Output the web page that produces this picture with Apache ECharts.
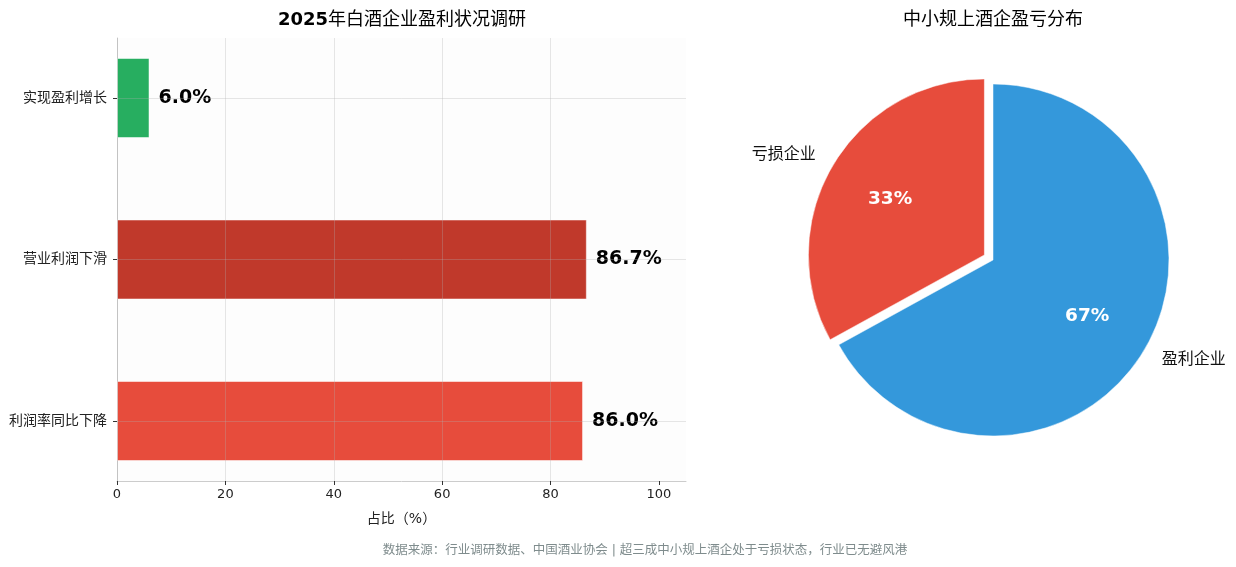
<!DOCTYPE html>
<html>
<head>
<meta charset="utf-8">
<script src="https://cdn.jsdelivr.net/npm/echarts@6/dist/echarts.min.js"></script>
<style>
  html, body { margin: 0; padding: 0; background: #fff; }
  #box { width: 1236px; height: 567px; }
</style>
</head>
<body>
<div id="box"></div>
<script>
// 柱状图数据（自下而上）
var barCategories = ['利润率同比下降', '营业利润下滑', '实现盈利增长'];
var barValues = [86.0, 86.7, 6.0];
var barColors = ['#E74C3C', '#C0392B', '#27AE60'];
var xTicks = [0, 20, 40, 60, 80, 100];

// 饼图数据
var pieNames = ['亏损企业', '盈利企业'];
var pieValues = [33, 67];
var pieColors = ['#E74C3C', '#3498DB'];

var font = '"DejaVu Sans", "Noto Sans CJK SC", sans-serif';
var gridLineColor = 'rgba(176,176,176,0.3)';

var myChart = echarts.init(document.getElementById('box'));

var barData = barValues.map(function (v, i) {
    return { value: v, itemStyle: { color: barColors[i] } };
});

var pieData = pieValues.map(function (v, i) {
    return { name: pieNames[i], value: v, selected: i === 0, itemStyle: { color: pieColors[i] } };
});

// 只放百分比文字用，扇区透明
var pieLabelData = pieValues.map(function (v, i) {
    return { name: pieNames[i], value: v, selected: i === 0 };
});

var option = {
    backgroundColor: '#ffffff',
    textStyle: { fontFamily: font },
    animation: false,
    title: [{
        text: '{a|2025}{b|年白酒企业盈利状况调研}',
        left: 397, top: 6, textAlign: 'center',
        textStyle: {
            rich: {
                a: { fontSize: 18, fontWeight: 'bold', color: '#000', fontFamily: font },
                b: { fontSize: 18, fontWeight: 'normal', color: '#000', fontFamily: font }
            }
        }
    }, {
        text: '中小规上酒企盈亏分布',
        left: 988, top: 6, textAlign: 'center',
        textStyle: { fontSize: 18, fontWeight: 'normal', color: '#000', fontFamily: font }
    }, {
        text: '数据来源：行业调研数据、中国酒业协会 | 超三成中小规上酒企处于亏损状态，行业已无避风港',
        left: 640, top: 539, textAlign: 'center',
        textStyle: { fontSize: 12.5, fontWeight: 'normal', color: '#7f8c8d', fontFamily: font }
    }],
    grid: [
        // 放柱子的网格（类目带宽与原图一致）
        { left: 117, top: 17.25, width: 569, height: 484.5 },
        // 坐标框、刻度、网格线
        { left: 117, top: 38, width: 569, height: 443, show: true, backgroundColor: '#FDFDFD', borderWidth: 0 }
    ],
    xAxis: [{
        gridIndex: 0, type: 'value', min: 0, max: 105, show: false
    }, {
        gridIndex: 1, type: 'value', min: 0, max: 105, interval: 20, z: 3,
        name: '占比（%）', nameLocation: 'middle', nameGap: 31,
        nameTextStyle: { fontSize: 14, color: '#222' },
        axisLine: { show: true, lineStyle: { color: '#cccccc', width: 1 } },
        axisTick: { show: true, length: 4, customValues: xTicks, lineStyle: { color: '#333' } },
        axisLabel: {
            fontSize: 13, color: '#222', margin: 7, customValues: xTicks
        },
        splitLine: { show: true, showMaxLine: false, lineStyle: { color: gridLineColor, width: 1 } }
    }],
    yAxis: [{
        gridIndex: 0, type: 'category', data: barCategories,
        axisLine: { show: false },
        axisTick: { show: true, alignWithLabel: true, length: 4, lineStyle: { color: '#333' } },
        axisLabel: { fontSize: 14, color: '#222', margin: 10 },
        splitLine: { show: false }
    }, {
        gridIndex: 1, type: 'value', min: 0, max: 1,
        axisLine: { show: true, lineStyle: { color: '#cccccc', width: 1 } },
        axisTick: { show: false },
        axisLabel: { show: false },
        splitLine: { show: false }
    }],
    series: [{
        type: 'bar',
        xAxisIndex: 0, yAxisIndex: 0,
        data: barData,
        barWidth: 80,
        itemStyle: { opacity: 1, borderColor: 'rgba(255,255,255,0.5)', borderWidth: 1 },
        label: {
            show: true, position: 'right', distance: 9,
            fontSize: 19, fontWeight: 'bold', color: '#000', fontFamily: font,
            formatter: function (p) { return p.value.toFixed(1) + '%'; }
        },
        markLine: {
            silent: true, symbol: 'none',
            label: { show: false },
            lineStyle: { color: gridLineColor, width: 1, type: 'solid' },
            data: barCategories.map(function (c) { return { yAxis: c }; })
        }
    }, {
        type: 'pie',
        center: [993, 260], radius: 176,
        startAngle: 90, clockwise: false,
        selectedMode: 'single', selectedOffset: 10,
        data: pieData,
        itemStyle: { borderColor: '#ffffff', borderWidth: 0.5 },
        label: {
            show: true, position: 'outside', formatter: '{b}',
            fontSize: 16, color: '#111', fontFamily: font,
            distanceToLabelLine: 0, overflow: 'none', edgeDistance: 2
        },
        labelLine: { show: false, length: 20, length2: 0 },
        emphasis: { disabled: true }
    }, {
        type: 'pie',
        center: [993, 260], radius: [37, 176],
        startAngle: 90, clockwise: false,
        selectedMode: 'single', selectedOffset: 10,
        silent: true,
        data: pieLabelData,
        itemStyle: { color: 'rgba(0,0,0,0)', borderWidth: 0 },
        label: {
            show: true, position: 'inside',
            fontSize: 18.5, fontWeight: 'bold', color: '#ffffff', fontFamily: font,
            formatter: function (p) { return Math.round(p.percent) + '%'; }
        },
        labelLine: { show: false },
        emphasis: { disabled: true }
    }]
};

myChart.setOption(option);
</script>
</body>
</html>
